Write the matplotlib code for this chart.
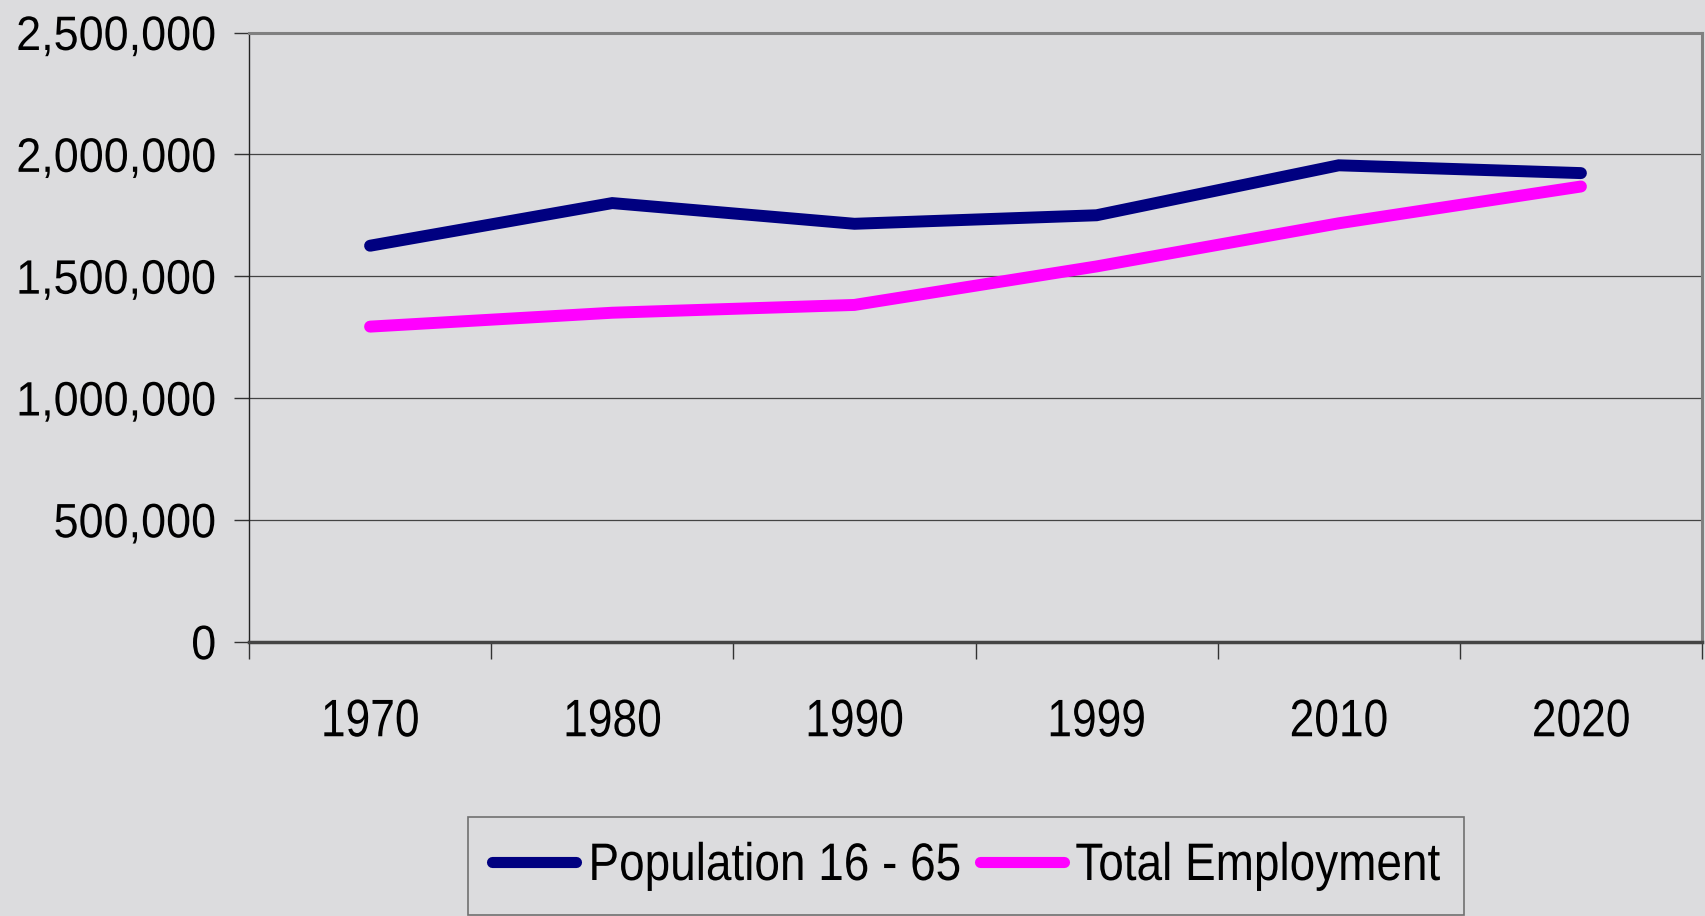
import matplotlib
matplotlib.use("Agg")
import matplotlib.pyplot as plt
from matplotlib.patheffects import AbstractPathEffect
from matplotlib.transforms import Affine2D

years = ["1970", "1980", "1990", "1999", "2010", "2020"]
population = [1625000, 1800000, 1715000, 1750000, 1955000, 1923000]
employment = [1293000, 1350000, 1382000, 1540000, 1717000, 1868000]
yticks = [0, 500000, 1000000, 1500000, 2000000, 2500000]


class Squeeze(AbstractPathEffect):
    """Horizontally condense glyphs (emulates a narrow typeface)."""
    def __init__(self, sx=0.84, frac=0.5):
        super().__init__()
        self.sx = sx
        self.frac = frac

    def draw_path(self, renderer, gc, tpath, affine, rgbFace=None):
        ext = tpath.get_extents()
        a = ext.x0 + self.frac * ext.width
        t = Affine2D().translate(-a, 0).scale(self.sx, 1).translate(a, 0) + affine
        renderer.draw_path(gc, tpath, t, rgbFace)


plt.rcParams["font.family"] = ["Liberation Sans", "DejaVu Sans"]
fs = 38
fs_y = 34.8
SX = 0.84
SXY = 0.93
SXL = 0.87

bg = "#dcdcde"
fig = plt.figure(figsize=(17.05, 9.16), dpi=100, facecolor=bg)
ax = fig.add_axes([249/1705, 1-641.7/916, (1702-249)/1705, (641.7-32.5)/916])
ax.set_facecolor(bg)

x = list(range(len(years)))
ax.plot(x, population, color="#000080", lw=8.6, solid_capstyle="round",
        solid_joinstyle="miter", label="Population 16 - 65", zorder=3)
ax.plot(x, employment, color="#FF00FF", lw=8.6, solid_capstyle="round",
        solid_joinstyle="miter", label="Total Employment", zorder=3)

ax.set_xlim(-0.5, len(years) - 0.5)
ax.set_ylim(0, 2500000)
ax.set_yticks(yticks)
ax.set_yticklabels([f"{v:,}" for v in yticks], fontsize=fs_y)
ax.set_xticks(x)
ax.set_xticklabels(years, fontsize=fs)
ax.set_xticks([i - 0.5 for i in range(len(years) + 1)], minor=True)
ax.tick_params(axis="x", which="major", length=0, pad=40)
ax.tick_params(axis="x", which="minor", length=12, width=1, color="#333333", direction="out")
ax.tick_params(axis="y", length=11, width=1, color="#333333", pad=12.5)
for lab in ax.get_yticklabels():
    lab.set_path_effects([Squeeze(SXY, 1.0)])
for lab in ax.get_xticklabels():
    lab.set_path_effects([Squeeze(SX, 0.5)])

ax.yaxis.grid(True, color="#444444", lw=0.9)
ax.set_axisbelow(True)
for s in ["top", "right"]:
    ax.spines[s].set_color("#808080")
    ax.spines[s].set_linewidth(2.2)
ax.spines["left"].set_color("#222222")
ax.spines["left"].set_linewidth(1.0)
ax.spines["bottom"].set_color("#444444")
ax.spines["bottom"].set_linewidth(2.5)

leg = fig.legend(loc="center", bbox_to_anchor=(966/1705, 1-866/916), ncol=2,
                 fontsize=fs, frameon=True, fancybox=False, handlelength=1.6,
                 handletextpad=-0.82, columnspacing=0.35, borderpad=0.45,
                 borderaxespad=0)
leg.get_frame().set_facecolor("none")
leg.get_frame().set_edgecolor("#555555")
leg.get_frame().set_linewidth(1.2)
for t in leg.get_texts():
    t.set_path_effects([Squeeze(SXL, 1.0)])
for h in leg.legend_handles:
    h.set_linewidth(8.0)

fig.savefig("out.png", dpi=100, facecolor=bg)
